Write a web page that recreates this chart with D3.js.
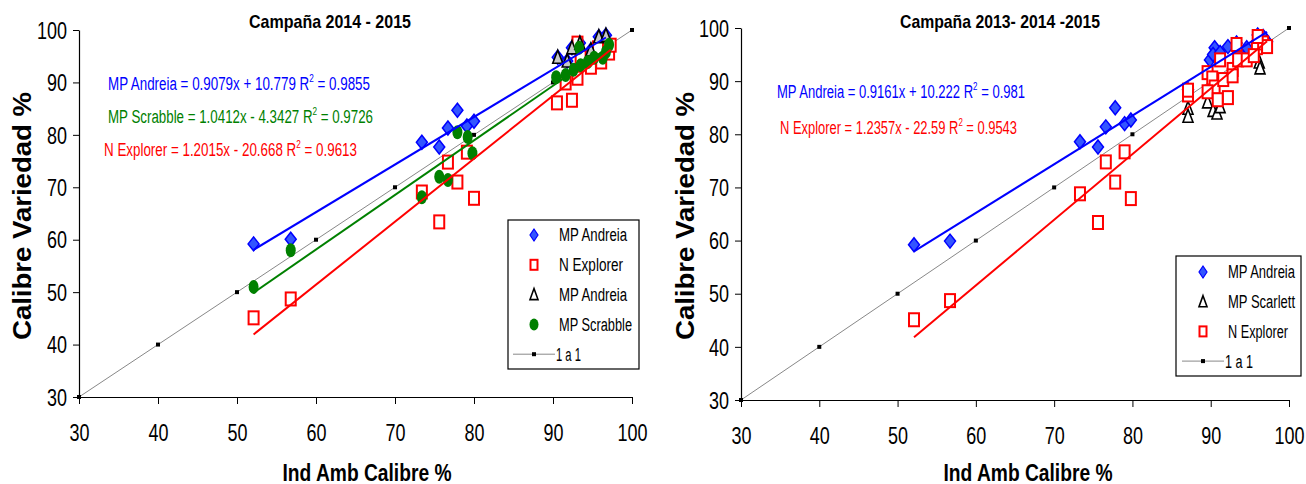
<!DOCTYPE html>
<html>
<head>
<meta charset="utf-8">
<script src="https://cdn.jsdelivr.net/npm/d3@7"></script>
<style>
  body { margin: 0; background: #fff; }
  text { font-family: "Liberation Sans Narrow", "Arial Narrow", "Liberation Sans", sans-serif; }
</style>
</head>
<body>
<div id="chart"></div>
<script>
// ---- data ----
var oneToOne = [30, 40, 50, 60, 70, 80, 90, 100];
var axisTicks = [30, 40, 50, 60, 70, 80, 90, 100];

// Campaña 2014 - 2015
var leftAndreia = [[52.1,59.2],[56.8,60.1],[73.4,78.6],[75.6,77.7],[76.7,81.3],[77.9,84.7],[79.1,81.7],[80.0,82.6],
  [90.6,94.8],[91.8,94.1],[92.4,96.6],[93.4,97.5],[94.8,96.2],[95.8,98.7],[96.7,99.0]];
var leftExplorer = [[52.1,45.1],[56.8,48.7],[73.4,69.1],[75.6,63.4],[76.7,74.8],[77.9,71.0],[79.1,76.7],[80.0,67.9],
  [90.5,86.1],[92.4,86.6],[91.6,89.9],[93.1,90.8],[93.5,94.8],[94.8,92.9],[96.1,93.9],[97.1,95.6],[97.3,97.1],[93.1,97.5],[95.7,96.6]];
var leftAndreiaTri = [[90.6,94.8],[91.8,94.1],[92.4,96.6],[93.4,97.5],[94.8,96.2],[95.8,98.7],[96.7,99.0]];
var leftScrabble = [[52.1,51.0],[56.8,58.0],[73.4,68.1],[75.6,72.0],[76.7,71.4],[77.9,80.5],[79.2,79.6],[79.8,76.5],
  [90.4,91.0],[91.6,91.4],[92.6,92.4],[93.3,96.6],[93.5,93.3],[94.4,93.9],[95.2,94.7],[96.3,94.7],[96.7,95.8],[97.1,97.2]];

// Campaña 2013- 2014 -2015
var rightAndreia = [[52.1,59.2],[56.7,59.9],[73.3,78.6],[75.6,77.6],[76.6,81.4],[77.8,85.0],[79.0,82.0],[79.8,82.7],
  [87.1,88.4],[89.9,94.0],[90.5,96.3],[90.3,95.0],[91.2,95.4],[92.2,96.5],[93.3,97.2],[93.5,95.6],[94.6,96.3],[96.0,98.7],[96.7,98.4],[97.2,97.4]];
var rightScarlett = [[87.1,84.9],[87.1,83.4],[89.6,86.1],[90.3,84.5],[90.8,84.0],[91.2,85.2],[96.2,93.6],[96.3,92.5]];
var rightExplorer = [[52.1,45.1],[56.7,48.7],[73.3,68.8],[75.6,63.4],[76.6,74.8],[77.8,71.0],[79.0,76.7],[79.8,67.9],
  [87.1,87.4],[87.1,88.3],[89.6,91.6],[90.2,90.6],[90.5,88.9],[89.6,88.0],[90.9,86.5],[92.2,86.9],[91.6,90.3],[92.8,92.2],
  [92.8,91.0],[93.5,94.0],[94.6,94.0],[93.3,96.9],[95.9,96.3],[96.7,97.2],[97.2,96.5],[96.0,98.4],[91.2,94.0],[95.5,94.8]];

// regression lines: slope, intercept, x range
var leftFits = [
  {name: "MP Andreia", m: 0.9079, b: 10.779, r2: "0.9855", x0: 52.1, x1: 96.7, color: "#0000ff"},
  {name: "MP Scrabble", m: 1.0412, b: -4.3427, r2: "0.9726", x0: 52.1, x1: 97.1, color: "#008000"},
  {name: "N Explorer", m: 1.2015, b: -20.668, r2: "0.9613", x0: 52.1, x1: 97.3, color: "#ff0000"}
];
var rightFits = [
  {name: "MP Andreia", m: 0.9161, b: 10.222, r2: "0.981", x0: 52.1, x1: 97.2, color: "#0000ff"},
  {name: "N Explorer", m: 1.2357, b: -22.59, r2: "0.9543", x0: 52.1, x1: 97.2, color: "#ff0000"}
];

var svg = d3.select("#chart").append("svg")
  .attr("width", 1306).attr("height", 484);

// squeeze a text to a narrow width (no condensed font installed)
function narrow(sel, w) {
  sel.attr("textLength", w).attr("lengthAdjust", "spacingAndGlyphs");
}

// marker shapes
function drawMarker(g, type, x, y) {
  if (type == "diamond") {
    g.append("path")
      .attr("d", "M" + x + "," + (y - 7) + "L" + (x + 5.5) + "," + y + "L" + x + "," + (y + 7) + "L" + (x - 5.5) + "," + y + "Z")
      .attr("fill", "#3355ff").attr("stroke", "#0000ff").attr("stroke-width", 1.5);
  } else if (type == "square") {
    g.append("rect").attr("x", x - 5).attr("y", y - 6.5).attr("width", 10).attr("height", 13)
      .attr("fill", "#fff").attr("stroke", "#ff0000").attr("stroke-width", 2);
  } else if (type == "triangle" || type == "triangleW") {
    g.append("path")
      .attr("d", "M" + x + "," + (y - 7) + "L" + (x + 5) + "," + (y + 6) + "L" + (x - 5) + "," + (y + 6) + "Z")
      .attr("fill", type == "triangle" ? "#c8c8c8" : "#fff").attr("stroke", "#000").attr("stroke-width", 1.6);
  } else if (type == "circle") {
    g.append("ellipse").attr("cx", x).attr("cy", y).attr("rx", 5).attr("ry", 7)
      .attr("fill", "#008000");
  }
}

function drawPanel(cfg) {
  var x = d3.scaleLinear().domain([30, 100]).range([cfg.left, cfg.right]);
  var y = d3.scaleLinear().domain([30, 100]).range([cfg.bottom, cfg.top]);
  var g = svg.append("g");

  // axes
  var xAxis = g.append("g").attr("transform", "translate(0," + cfg.bottom + ")")
    .call(d3.axisBottom(x).tickValues(axisTicks).tickSize(7).tickPadding(21).tickSizeOuter(0));
  var yAxis = g.append("g").attr("transform", "translate(" + cfg.left + ",0)")
    .call(d3.axisLeft(y).tickValues(axisTicks).tickSize(6).tickPadding(6).tickSizeOuter(0));
  g.selectAll(".domain").attr("stroke", "#000").attr("stroke-width", 1.2);
  g.selectAll(".tick line").attr("stroke", "#000");
  g.selectAll(".tick text").attr("fill", "#000").style("font-size", "23px")
    .each(function () {
      var t = d3.select(this);
      narrow(t, t.text().length * 10);
    });
  yAxis.selectAll(".tick text").attr("dy", "0.36em");

  // 1 a 1 line
  g.append("path")
    .attr("d", d3.line().x(function (d) { return x(d); }).y(function (d) { return y(d); })(oneToOne))
    .attr("fill", "none").attr("stroke", "#888").attr("stroke-width", 1);
  oneToOne.forEach(function (v) {
    g.append("rect").attr("x", x(v) - 2).attr("y", y(v) - 2).attr("width", 4).attr("height", 4).attr("fill", "#000");
  });

  // points
  cfg.series.forEach(function (s) {
    s.data.forEach(function (d) { drawMarker(g, s.type, x(d[0]), y(d[1])); });
  });

  // regression lines
  cfg.fits.forEach(function (f) {
    g.append("line")
      .attr("x1", x(f.x0)).attr("y1", y(f.m * f.x0 + f.b))
      .attr("x2", x(f.x1)).attr("y2", y(f.m * f.x1 + f.b))
      .attr("stroke", f.color).attr("stroke-width", 2);
  });

  // equations
  cfg.fits.forEach(function (f, i) {
    var e = cfg.eq[i];
    var sign = f.b < 0 ? " - " : " + ";
    var t = g.append("text").attr("x", e.x).attr("y", e.y).attr("fill", f.color)
      .style("font-size", "18px");
    narrow(t, e.w);
    t.append("tspan").text(f.name + " = " + f.m + "x" + sign + Math.abs(f.b) + " R");
    t.append("tspan").attr("dy", -8).style("font-size", "11px").text("2");
    t.append("tspan").attr("dy", 8).text(" = " + f.r2);
  });

  // title
  narrow(g.append("text").attr("x", cfg.title.x).attr("y", 28).attr("text-anchor", "middle")
    .style("font-size", "19px").style("font-weight", "bold")
    .text(cfg.title.text), cfg.title.w);

  // axis titles
  narrow(g.append("text").attr("transform", "translate(" + cfg.yTitleX + ",216) rotate(-90)")
    .attr("text-anchor", "middle")
    .style("font-family", '"Liberation Sans", Arial, sans-serif')
    .style("font-size", "26px").style("font-weight", "bold")
    .text("Calibre Variedad %"), 248);
  narrow(g.append("text").attr("x", cfg.xTitleX).attr("y", 481).attr("text-anchor", "middle")
    .style("font-size", "24px").style("font-weight", "bold")
    .text("Ind Amb Calibre %"), 169);

  // legend
  var L = cfg.legend;
  g.append("rect").attr("x", L.x).attr("y", L.y).attr("width", L.w).attr("height", L.h)
    .attr("fill", "#fff").attr("stroke", "#000").attr("stroke-width", 1.2);
  L.items.forEach(function (it, i) {
    var yy = L.y + L.first + i * L.step;
    if (it.type == "line") {
      g.append("line").attr("x1", L.mx - 21).attr("x2", L.mx + 21).attr("y1", yy).attr("y2", yy)
        .attr("stroke", "#888").attr("stroke-width", 1);
      g.append("rect").attr("x", L.mx - 2).attr("y", yy - 2).attr("width", 4).attr("height", 4).attr("fill", "#000");
    } else if (it.type == "diamond") {
      g.append("path").attr("d", "M" + L.mx + "," + (yy - 6) + "L" + (L.mx + 4) + "," + yy + "L" + L.mx + "," + (yy + 6) + "L" + (L.mx - 4) + "," + yy + "Z")
        .attr("fill", "#3355ff").attr("stroke", "#0000ff").attr("stroke-width", 1.2);
    } else if (it.type == "square") {
      g.append("rect").attr("x", L.mx - 3.5).attr("y", yy - 5).attr("width", 7).attr("height", 10)
        .attr("fill", "#fff").attr("stroke", "#ff0000").attr("stroke-width", 2);
    } else if (it.type == "triangle") {
      g.append("path").attr("d", "M" + L.mx + "," + (yy - 6) + "L" + (L.mx + 4) + "," + (yy + 5) + "L" + (L.mx - 4) + "," + (yy + 5) + "Z")
        .attr("fill", "#fff").attr("stroke", "#000").attr("stroke-width", 1.6);
    } else if (it.type == "circle") {
      g.append("ellipse").attr("cx", L.mx).attr("cy", yy).attr("rx", 4.5).attr("ry", 6).attr("fill", "#008000");
    }
    narrow(g.append("text").attr("x", it.type == "line" ? L.mx + 22 : L.tx).attr("y", yy).attr("dy", "0.36em")
      .style("font-size", "18px").attr("fill", "#000").text(it.label), it.w);
  });
}

drawPanel({
  left: 79, right: 632, top: 30, bottom: 397,
  series: [
    {type: "diamond", data: leftAndreia},
    {type: "square", data: leftExplorer},
    {type: "triangle", data: leftAndreiaTri},
    {type: "circle", data: leftScrabble}
  ],
  fits: leftFits,
  eq: [{x: 108, y: 90, w: 262}, {x: 108, y: 123, w: 265}, {x: 104, y: 156, w: 253}],
  title: {text: "Campaña 2014 - 2015", x: 330, w: 162},
  yTitleX: 31, xTitleX: 367,
  legend: {x: 508, y: 220, w: 131, h: 149, first: 15, step: 29.8, mx: 534, tx: 559,
    items: [{type: "diamond", label: "MP Andreia", w: 68}, {type: "square", label: "N Explorer", w: 64},
            {type: "triangle", label: "MP Andreia", w: 68}, {type: "circle", label: "MP Scrabble", w: 73},
            {type: "line", label: "1 a 1", w: 25}]}
});

drawPanel({
  left: 741, right: 1289, top: 28, bottom: 400,
  series: [
    {type: "diamond", data: rightAndreia},
    {type: "triangleW", data: rightScarlett},
    {type: "square", data: rightExplorer}
  ],
  fits: rightFits,
  eq: [{x: 777, y: 98, w: 248}, {x: 780, y: 134, w: 237}],
  title: {text: "Campaña 2013- 2014 -2015", x: 1000, w: 200},
  yTitleX: 694, xTitleX: 1028,
  legend: {x: 1176, y: 256, w: 125, h: 120, first: 16, step: 29.7, mx: 1203, tx: 1228,
    items: [{type: "diamond", label: "MP Andreia", w: 67}, {type: "triangle", label: "MP Scarlett", w: 67},
            {type: "square", label: "N Explorer", w: 60}, {type: "line", label: "1 a 1", w: 28}]}
});
</script>
</body>
</html>
